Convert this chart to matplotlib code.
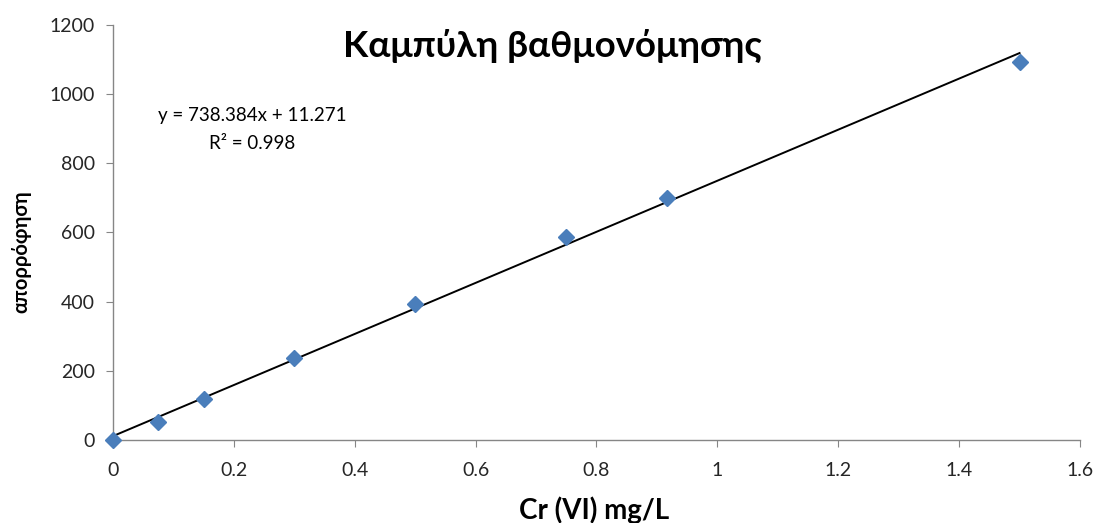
import matplotlib.pyplot as plt
import numpy as np

# calibration data
conc = [0, 0.075, 0.15, 0.3, 0.5, 0.75, 0.916, 1.5]
absorb = [0, 52, 118, 237, 393, 587, 700, 1093]

# trendline as printed on the chart
slope = 738.384
intercept = 11.271
r2 = 0.998

xticks = [0, 0.2, 0.4, 0.6, 0.8, 1, 1.2, 1.4, 1.6]
xticklabels = ["0", "0.2", "0.4", "0.6", "0.8", "1", "1.2", "1.4", "1.6"]
yticks = [0, 200, 400, 600, 800, 1000, 1200]

plt.rcParams['font.family'] = ['Lato', 'Noto Sans', 'DejaVu Sans']

fig = plt.figure(figsize=(10.99, 5.23), dpi=100)
ax = fig.add_axes([0.1028, 0.1587, 0.8799, 0.7935])

xfit = np.array([0, max(conc)])
ax.plot(xfit, slope * xfit + intercept, color="black", lw=1.4, zorder=2)
ax.plot(conc, absorb, "D", color="#4A7EBB", ms=8.5, mec="#4A7EBB", zorder=3,
        clip_on=False)

ax.set_xlim(0, 1.6)
ax.set_ylim(0, 1200)
ax.set_xticks(xticks)
ax.set_xticklabels(xticklabels)
ax.set_yticks(yticks)

for s in ["top", "right"]:
    ax.spines[s].set_visible(False)
for s in ["left", "bottom"]:
    ax.spines[s].set_color("#868686")
    ax.spines[s].set_linewidth(1.0)
ax.tick_params(axis="x", direction="out", length=5, color="#868686",
               labelsize=14, pad=11, labelcolor="#262626")
ax.tick_params(axis="y", direction="out", length=5, color="#868686",
               labelsize=14, pad=8, labelcolor="#262626")

fig.text(0.503, 0.913, "Καμπύλη βαθμονόμησης", ha="center", va="center",
         fontsize=26.5, fontweight="bold")
ax.text(0.144, 0.782, "y = %.3fx + %.3f" % (slope, intercept), transform=ax.transAxes,
        ha="center", va="center", fontsize=13.5)
ax.text(0.144, 0.714, "R² = %.3f" % r2, transform=ax.transAxes,
        ha="center", va="center", fontsize=13.5)

fig.text(0.019, 0.518, "απορρόφηση", rotation=90, ha="center", va="center",
         fontsize=14.5, fontweight="bold")
fig.text(0.541, 0.025, "Cr (VI) mg/L", ha="center", va="center",
         fontsize=20, fontweight="bold")

plt.savefig("out.png", dpi=100)
